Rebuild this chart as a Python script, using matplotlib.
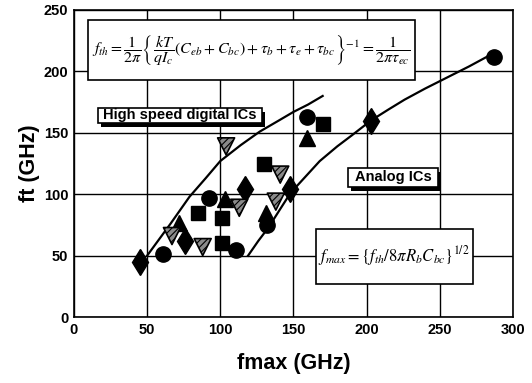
import matplotlib
matplotlib.use("Agg")
import matplotlib.pyplot as plt
from matplotlib.patches import Rectangle

plt.rcParams["font.family"] = ["Liberation Sans", "DejaVu Sans"]
plt.rcParams["mathtext.fontset"] = "stix"
plt.rcParams["hatch.linewidth"] = 0.8

# data (fmax GHz, ft GHz)
dia_x = [45, 76, 117, 148, 203]
dia_y = [45, 62, 104, 104, 160]
circ_x = [61, 92, 111, 132, 159, 287]
circ_y = [51, 97, 55, 75, 163, 212]
sq_x = [85, 101, 101, 130, 170]
sq_y = [85, 81, 60, 125, 157]
tri_x = [72, 103, 131, 159]
tri_y = [77, 96, 85, 146]
tdn_x = [67, 88, 104, 113, 141, 138]
tdn_y = [66, 57, 139, 89, 116, 94]

# trend curves
dig_x = [50, 58, 66, 79, 90, 100, 114, 127, 140, 150, 160, 170]
dig_y = [50, 63, 76, 98, 113, 127, 140, 151, 160, 167, 173, 180]
ana_x = [119, 126, 133, 141, 148, 158, 168, 180, 190, 203, 215, 226, 240, 255, 270, 284]
ana_y = [50, 62, 73, 88, 101, 114, 127, 139, 148, 160, 169, 177, 186, 195, 204, 213]

fig = plt.figure(figsize=(5.32, 3.83), dpi=100)
ax = fig.add_axes([0.139, 0.172, 0.825, 0.802])

ax.set_xlim(0, 300)
ax.set_ylim(0, 250)
ax.set_xticks(range(0, 301, 50))
ax.set_yticks(range(0, 251, 50))
ax.grid(True, color="black", lw=1.0)
ax.set_axisbelow(True)
ax.tick_params(length=0, labelsize=10.5, pad=4)
for lab in ax.get_xticklabels() + ax.get_yticklabels():
    lab.set_fontweight("bold")
for s in ax.spines.values():
    s.set_linewidth(1.2)

ax.plot(dig_x, dig_y, color="black", lw=1.6, zorder=3)
ax.plot(ana_x, ana_y, color="black", lw=1.6, zorder=3)

ax.plot(dia_x, dia_y, "d", color="black", ms=13, zorder=4)
ax.plot(circ_x, circ_y, "o", color="black", ms=11, zorder=4)
ax.plot(sq_x, sq_y, "s", color="black", ms=9.5, zorder=4)
ax.plot(tri_x, tri_y, "^", color="black", ms=11, zorder=4)
ax.scatter(tdn_x, tdn_y, marker="v", s=150, facecolor="#8a8a8a",
           edgecolor="black", linewidth=1.2, hatch="/////", zorder=4)


def box(x0, x1, y0, y1, shadow=0):
    if shadow:
        ax.add_patch(Rectangle((x0 + 2, y0 - shadow), x1 - x0, y1 - y0,
                               facecolor="black", edgecolor="none", zorder=5))
    ax.add_patch(Rectangle((x0, y0), x1 - x0, y1 - y0, facecolor="white",
                           edgecolor="black", lw=1.2, zorder=5))


box(9.6, 232.8, 193, 242)
ax.text(121, 217.5,
        r"$f_{th}=\dfrac{1}{2\pi}\left\{\dfrac{kT}{qI_c}(C_{eb}+C_{bc})+\tau_b+\tau_e+\tau_{bc}\right\}^{-1}=\dfrac{1}{2\pi\tau_{ec}}$",
        fontsize=11.5, va="center", ha="center", zorder=6)

box(16.4, 128.3, 158, 170, shadow=3)
ax.text(72.3, 164.3, "High speed digital ICs", fontsize=10.5, fontweight="bold",
        va="center", ha="center", zorder=6)

box(187.2, 248.7, 106, 121, shadow=3)
ax.text(218, 113.7, "Analog ICs", fontsize=10.5, fontweight="bold",
        va="center", ha="center", zorder=6)

box(165.7, 272.6, 27.2, 72)
ax.text(219, 49.5, r"$f_{max}=\left\{f_{th}/8\pi R_b C_{bc}\right\}^{1/2}$",
        fontsize=12, va="center", ha="center", zorder=6)

ax.set_xlabel("fmax (GHz)", fontsize=15.5, fontweight="bold", labelpad=12)
ax.set_ylabel("ft (GHz)", fontsize=15.5, fontweight="bold", labelpad=3)

fig.savefig("out.png", dpi=100)
